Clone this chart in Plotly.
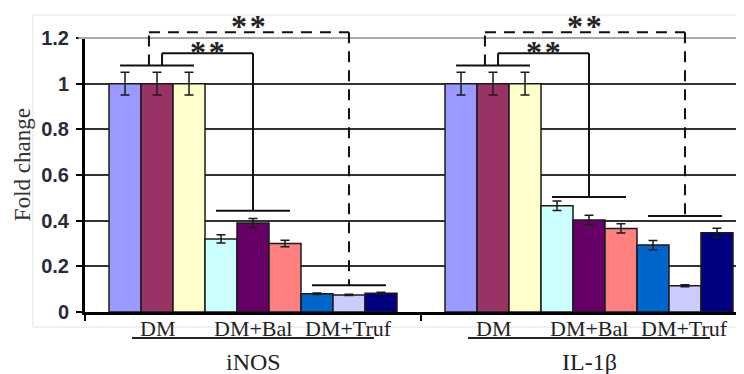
import plotly.graph_objects as go

# ---------------- data ----------------
genes = ["iNOS", "IL-1β"]
series_names = ["DM-1", "DM-2", "DM-3", "DM+Bal-1", "DM+Bal-2", "DM+Bal-3",
                "DM+Truf-1", "DM+Truf-2", "DM+Truf-3"]
series_colors = ["#9999FF", "#993366", "#FFFFCC", "#CCFFFF", "#660066", "#FF8080",
                 "#0066CC", "#CCCCFF", "#000080"]
inos_values = [1.0, 1.0, 1.0, 0.32, 0.39, 0.30, 0.08, 0.075, 0.082]
il1b_values = [1.0, 1.0, 1.0, 0.465, 0.403, 0.366, 0.293, 0.115, 0.347]
inos_errors = [0.05, 0.05, 0.05, 0.018, 0.02, 0.014, 0.003, 0.003, 0.004]
il1b_errors = [0.05, 0.05, 0.05, 0.021, 0.021, 0.02, 0.02, 0.004, 0.02]
sub_labels = ["DM", "DM+Bal", "DM+Truf"]
y_ticks = [0, 0.2, 0.4, 0.6, 0.8, 1.0, 1.2]
y_tick_text = ["0", "0.2", "0.4", "0.6", "0.8", "1", "1.2"]
# significance bracket heights (fold-change units) per gene
dm_line_y = [1.08, 1.08]
dashed_top_y = [1.225, 1.225]
solid_top_y = [1.133, 1.133]
bal_line_y = [0.443, 0.504]
truf_line_y = [0.117, 0.42]

YMAX = 1.2
BARGAP = 0.143
N = len(series_names)
bw = (1 - BARGAP) / N          # bar width in category units
sub_off = [-3 * bw, 0.0, 3 * bw]  # sub-group centres

PLOT_W, PLOT_H = 659, 274

fig = go.Figure()
for i, name in enumerate(series_names):
    fig.add_trace(go.Bar(
        x=genes, y=[inos_values[i], il1b_values[i]], name=name,
        marker=dict(color=series_colors[i], line=dict(color="#1a1a1a", width=1.5)),
        error_y=dict(type="data", array=[inos_errors[i], il1b_errors[i]],
                     color="#1a1a1a", thickness=1.5, width=4.5),
        showlegend=False,
    ))

def py(v):
    return v / YMAX

shapes = []
annotations = []
# chart-area border (light)
shapes.append(dict(type="rect", xref="paper", yref="paper", x0=-0.079, x1=1.05,
                   y0=-0.055, y1=1.084, line=dict(color="#e2e2e2", width=1), layer="below"))
# top (gray) line at 1.2
shapes.append(dict(type="line", xref="paper", yref="paper", x0=-0.01, x1=1, y0=1, y1=1,
                   line=dict(color="#a8a8a8", width=2)))

half = 0.11
solid = dict(color="#111111", width=2)
dashed = dict(color="#111111", width=2, dash="11px,8px")
star_font = dict(family="Liberation Serif", size=32, color="#222", weight="bold")
stars = "*\u200a*"
for g in range(len(genes)):
    c_dm, c_bal, c_truf = (g + o for o in sub_off)
    # horizontal group lines
    for cx, yy in ((c_dm, dm_line_y[g]), (c_bal, bal_line_y[g]), (c_truf, truf_line_y[g])):
        shapes.append(dict(type="line", xref="x", yref="paper", x0=cx - half, x1=cx + half,
                           y0=py(yy), y1=py(yy), line=solid))
    # dashed bracket DM -> DM+Truf
    xd = c_dm - 0.024
    shapes.append(dict(type="line", xref="x", yref="paper", x0=xd, x1=xd,
                       y0=py(dm_line_y[g]), y1=py(dashed_top_y[g]), line=dashed))
    shapes.append(dict(type="line", xref="x", yref="paper", x0=xd, x1=c_truf,
                       y0=py(dashed_top_y[g]), y1=py(dashed_top_y[g]), line=dashed))
    shapes.append(dict(type="line", xref="x", yref="paper", x0=c_truf, x1=c_truf,
                       y0=py(dashed_top_y[g]), y1=py(truf_line_y[g]), line=dashed))
    # solid bracket DM -> DM+Bal
    xs = c_dm + 0.015
    shapes.append(dict(type="line", xref="x", yref="paper", x0=xs, x1=xs,
                       y0=py(dm_line_y[g]), y1=py(solid_top_y[g]), line=solid))
    shapes.append(dict(type="line", xref="x", yref="paper", x0=xs, x1=c_bal,
                       y0=py(solid_top_y[g]), y1=py(solid_top_y[g]), line=solid))
    shapes.append(dict(type="line", xref="x", yref="paper", x0=c_bal, x1=c_bal,
                       y0=py(solid_top_y[g]), y1=py(bal_line_y[g]), line=solid))
    # stars
    annotations.append(dict(x=(xd + c_truf) / 2, xref="x", y=py(dashed_top_y[g]), yref="paper",
                            text=stars, showarrow=False, yanchor="middle", yshift=6,
                            font=star_font))
    annotations.append(dict(x=(xs + c_bal) / 2, xref="x", y=py(solid_top_y[g]), yref="paper",
                            text=stars, showarrow=False, yanchor="middle", yshift=1.5,
                            font=star_font))
    # sub labels
    for k, lab in enumerate(sub_labels):
        annotations.append(dict(x=g + sub_off[k], xref="x", y=0, yref="paper", yshift=-16,
                                text=lab, showarrow=False, yanchor="middle",
                                font=dict(family="Liberation Serif", size=22, color="#222")))
    # underline
    shapes.append(dict(type="line", xref="x", yref="paper", x0=g - 0.36, x1=g + 0.36,
                       y0=-26 / PLOT_H, y1=-26 / PLOT_H, line=dict(color="#222", width=2)))
    # gene label
    annotations.append(dict(x=g, xref="x", y=0, yref="paper", yshift=-50,
                            text=genes[g], showarrow=False, yanchor="middle",
                            font=dict(family="Liberation Serif", size=24, color="#222")))

# y-axis title
annotations.append(dict(x=0, xref="paper", xshift=-63, y=0.536, yref="paper",
                        xanchor="center", yanchor="middle",
                        text="Fold change", textangle=-90, showarrow=False,
                        font=dict(family="Liberation Serif", size=23, color="#333")))

# page body adds an 8px offset; shrink the figure so the 744x374 view matches
fig.update_layout(
    width=736, height=366,
    margin=dict(l=77, r=0, t=30, b=62),
    paper_bgcolor="white", plot_bgcolor="white",
    barmode="group", bargap=BARGAP, bargroupgap=0,
    shapes=shapes, annotations=annotations,
    xaxis=dict(type="category", categoryorder="array", categoryarray=genes,
               range=[-0.5, -0.5 + PLOT_W / 336], showticklabels=False,
               showline=True, linecolor="#000", linewidth=3,
               ticks="outside", tickson="boundaries", ticklen=6, tickwidth=2, tickcolor="#000",
               showgrid=False, zeroline=False),
    yaxis=dict(range=[0, YMAX], tickvals=y_ticks, ticktext=y_tick_text,
               showline=True, linecolor="#000", linewidth=3,
               ticks="outside", ticklen=6, tickwidth=2, tickcolor="#000",
               showgrid=True, gridcolor="#333", gridwidth=1.5, zeroline=False,
               tickfont=dict(family="Liberation Sans", size=20, color="#2a2a3a", weight="bold"),
               ticklabelstandoff=3),
)

fig.write_html("out.html")
